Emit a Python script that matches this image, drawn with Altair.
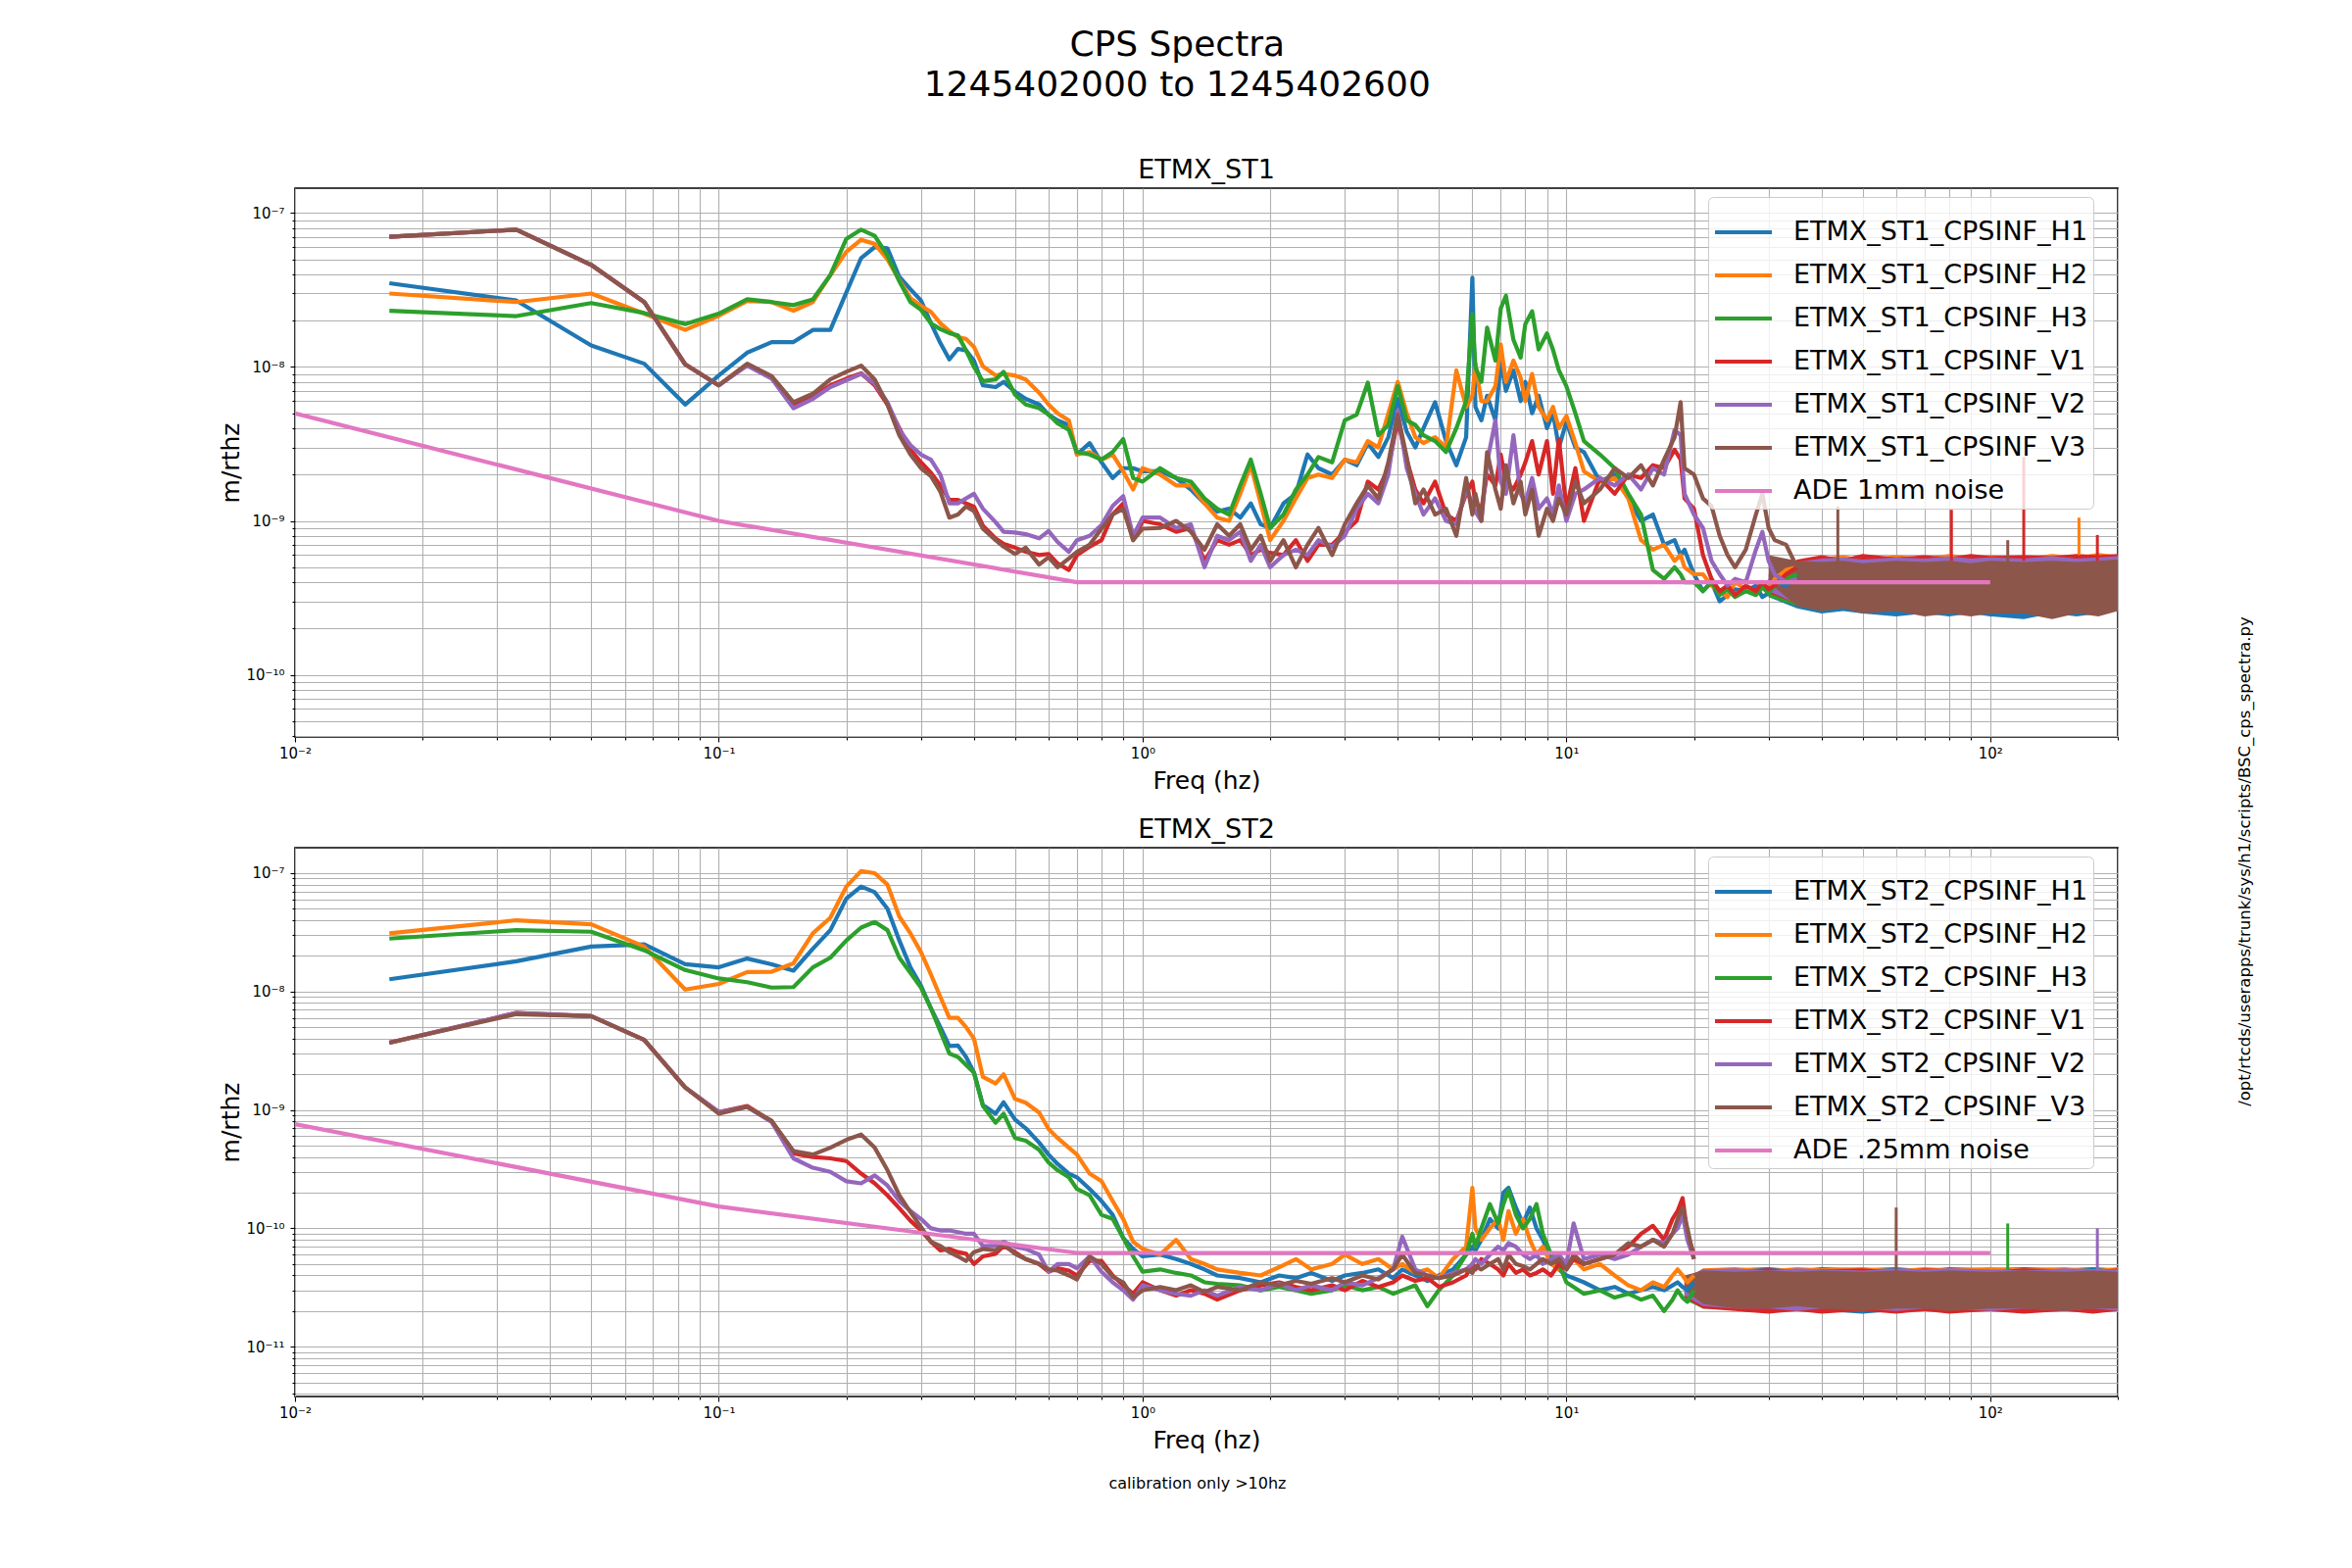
import math
import altair as alt
import pandas as pd

# ---------------- text ----------------
SUPTITLE = ["CPS Spectra", "1245402000 to 1245402600"]
PANEL_TITLES = ["ETMX_ST1", "ETMX_ST2"]
X_LABEL = "Freq (hz)"
Y_LABEL = "m/rthz"
FOOTER = "calibration only >10hz"
SCRIPT_PATH = "/opt/rtcds/userapps/trunk/sys/h1/scripts/BSC_cps_spectra.py"
CHANNELS = ["H1", "H2", "H3", "V1", "V2", "V3"]
NOISE_NAMES = ["ADE 1mm noise", "ADE .25mm noise"]
COLORS = ["#1f77b4", "#ff7f0e", "#2ca02c", "#d62728", "#9467bd", "#8c564b", "#e377c2"]

# values below are given in these units (m/rthz)
UNIT_ST1 = 1e-9
UNIT_ST2 = 1e-10

# ---------------- shared low-frequency grid (Hz) ----------------
F_LO = [0.0167, 0.0333, 0.05, 0.0667, 0.0833, 0.1, 0.1167, 0.1333, 0.15, 0.1667,
        0.1833, 0.2, 0.2167, 0.2333, 0.25, 0.2667, 0.2833, 0.3, 0.3167, 0.3333,
        0.35, 0.3667, 0.3833, 0.4, 0.42, 0.45, 0.47, 0.5, 0.53, 0.57,
        0.6, 0.63, 0.67, 0.7, 0.75, 0.8, 0.85, 0.9, 0.95, 1.0]

# ---------------- ST1 ----------------
ST1_LO_H1 = [35, 27, 13.8, 10.5, 5.7, 8.8, 12.4, 14.5, 14.5, 17.4, 17.4, 30.5, 51, 60, 59, 38.5, 32, 27, 19.2, 14.3,
             11.2, 13.1, 12.8, 11, 7.6, 7.4, 8, 6.9, 6.2, 5.7, 4.9, 4.5, 4.2, 2.7, 3.2, 2.4, 1.9, 2.2, 2.2, 2.1]
ST1_LO_H2 = [30, 26.4, 30, 22.2, 17.4, 21.5, 26.8, 26.4, 23.2, 26.4, 39.5, 56, 67, 63, 50, 36.7, 28, 25, 22.8, 19.2,
             17.1, 15.6, 15.2, 13.5, 10.1, 8.8, 9, 8.8, 8.3, 6.8, 5.7, 5.0, 4.5, 2.7, 2.8, 2.5, 2.7, 2.1, 1.6, 2.2]
ST1_LO_H3 = [23.2, 21.4, 26, 22.4, 19, 22.2, 27.5, 26.4, 25.2, 27.5, 39.5, 68, 78, 71, 53, 36, 26.4, 23.5, 19.2, 17.6,
             16.6, 16, 12.8, 10, 8.1, 8.3, 9.3, 6.6, 5.7, 5.4, 4.9, 4.3, 3.9, 2.8, 2.7, 2.5, 2.8, 3.4, 1.9, 1.8]
ST1_LO_V1 = [70, 78, 46, 26.4, 10.4, 7.6, 10.4, 8.5, 5.7, 6.4, 7.6, 8.4, 9.1, 7.6, 5.7, 4.0, 2.9, 2.4, 2.05, 1.7,
             1.37, 1.37, 1.3, 1.24, 0.93, 0.77, 0.71, 0.67, 0.63, 0.6, 0.61, 0.53, 0.48, 0.6, 0.68, 0.75, 1.1, 1.3, 0.75, 1.0]
ST1_LO_V2 = [70, 78, 46, 26.4, 10.4, 7.6, 10.2, 8.4, 5.4, 6.2, 7.4, 8.2, 9.0, 7.8, 5.9, 3.9, 3.1, 2.7, 2.5, 2.0,
             1.3, 1.3, 1.4, 1.5, 1.2, 0.98, 0.85, 0.84, 0.82, 0.77, 0.86, 0.73, 0.63, 0.75, 0.8, 0.94, 1.25, 1.45, 0.8, 1.05]
ST1_LO_V3 = [70, 78, 46, 26.4, 10.4, 7.6, 10.5, 8.7, 5.9, 6.7, 8.3, 9.3, 10.2, 8.3, 5.7, 3.6, 2.7, 2.2, 1.95, 1.55,
             1.05, 1.1, 1.24, 1.16, 0.89, 0.75, 0.68, 0.61, 0.67, 0.52, 0.58, 0.5, 0.57, 0.63, 0.7, 0.89, 1.1, 1.2, 0.75, 0.89]

F_MID_ST1 = [1.1, 1.2, 1.3, 1.4, 1.5, 1.6, 1.7, 1.8, 1.9, 2.0, 2.15, 2.3, 2.45, 2.6, 2.8, 3.0, 3.2, 3.4, 3.6, 3.8,
             4.0, 4.2, 4.4, 4.6, 4.9, 5.2, 5.5, 5.8, 6.0, 6.1, 6.3, 6.5, 6.8, 7.0, 7.2, 7.5, 7.8, 8.0, 8.3, 8.6,
             9.0, 9.3, 9.6, 10, 10.5, 11, 12, 13, 14, 15, 16, 17, 18, 18.6, 19, 20]
ST1_MID_H1 = [2.1, 1.9, 1.6, 1.3, 1.15, 1.2, 1.05, 1.3, 0.95, 0.9, 1.3, 1.5, 2.7, 2.2, 2.0, 2.5, 2.3, 3.2, 2.6, 3.5,
              6.2, 3.8, 3.0, 4.0, 5.9, 3.3, 2.3, 3.5, 38, 5.5, 4.5, 6.5, 4.5, 11, 7, 9.5, 6.0, 8.0, 5.0, 6.5,
              4.0, 5.0, 3.0, 4.4, 3.0, 2.8, 1.8, 2.0, 1.4, 1.0, 1.1, 0.7, 0.75, 0.6, 0.65, 0.45]
ST1_MID_H2 = [2.0, 1.7, 1.7, 1.3, 1.05, 1.0, 1.5, 2.3, 1.3, 0.75, 1.0, 1.4, 1.9, 2.0, 1.9, 2.5, 2.4, 3.3, 3.0, 5.0,
              8.0, 5.0, 3.5, 3.2, 3.5, 3.0, 9.5, 5.5, 6.5, 10.5, 6.0, 6.0, 7.5, 14, 8, 11, 8.5, 6.0, 9, 5.5,
              4.5, 5.5, 4.0, 4.8, 3.2, 2.1, 1.8, 1.9, 1.4, 0.75, 0.65, 0.7, 0.55, 0.6, 0.5, 0.45]
ST1_MID_H3 = [2.2, 1.9, 1.8, 1.4, 1.2, 1.1, 1.7, 2.5, 1.5, 0.9, 1.1, 1.6, 2.0, 2.6, 2.4, 4.5, 4.9, 7.9, 3.6, 4.2,
              7.5, 4.5, 4.2, 3.6, 3.3, 2.8, 4.0, 6.0, 22, 10, 8, 18, 11, 24, 29, 15, 11.5, 19, 23, 13,
              16.5, 12.9, 9.5, 7.5, 5.0, 3.3, 2.7, 2.2, 1.5, 1.1, 0.48, 0.42, 0.5, 0.45, 0.4, 0.4]
ST1_MID_V1 = [0.95, 0.85, 0.9, 0.55, 0.75, 0.7, 0.75, 0.6, 0.65, 0.62, 0.6, 0.75, 0.55, 0.7, 0.7, 0.85, 1.0, 1.8, 1.6, 2.2,
              4.5, 2.5, 1.6, 1.3, 1.8, 1.1, 1.0, 1.5, 1.8, 1.3, 1.2, 2.0, 1.7, 2.7, 1.8, 1.6, 2.0, 2.4, 3.3, 2.0,
              3.3, 1.5, 3.4, 1.2, 2.2, 1.0, 1.9, 1.5, 2.0, 1.9, 2.3, 2.2, 2.9, 2.5, 1.4, 1.2]
ST1_MID_V2 = [1.05, 0.9, 0.95, 0.5, 0.8, 0.75, 0.85, 0.55, 0.7, 0.5, 0.6, 0.65, 0.6, 0.75, 0.68, 0.8, 1.2, 1.5, 1.3, 2.0,
              5.2, 2.2, 1.5, 1.1, 1.4, 1.0, 0.95, 1.6, 1.3, 1.15, 1.0, 2.4, 4.5, 1.8, 1.5, 3.6, 1.5, 1.3, 1.9, 1.2,
              1.4, 1.1, 1.7, 1.0, 1.5, 1.6, 1.9, 1.7, 2.0, 1.6, 2.2, 2.0, 3.9, 3.6, 1.5, 1.1]
ST1_MID_V3 = [0.9, 1.0, 0.85, 0.65, 0.95, 0.8, 0.95, 0.65, 0.8, 0.55, 0.75, 0.5, 0.7, 0.9, 0.6, 0.95, 1.3, 1.7, 1.4, 2.4,
              4.9, 2.6, 1.3, 1.6, 1.1, 1.2, 0.8, 1.9, 1.1, 1.5, 1.0, 2.8, 1.6, 1.2, 2.3, 1.3, 1.8, 1.1, 1.6, 0.8,
              1.2, 1.0, 1.4, 1.1, 1.8, 1.3, 1.6, 2.2, 1.9, 2.3, 1.7, 2.5, 3.5, 5.9, 2.2, 2.0]

F_UP_ST1 = [21, 22, 23, 24, 25, 26.5, 28, 29, 30, 31, 33, 35]
ST1_UP_H1 = [0.35, 0.4, 0.3, 0.33, 0.36, 0.35, 0.38, 0.32, 0.34, 0.4, 0.38, 0.45]
ST1_UP_H2 = [0.45, 0.38, 0.35, 0.32, 0.4, 0.36, 0.34, 0.4, 0.36, 0.42, 0.48, 0.5]
ST1_UP_H3 = [0.35, 0.4, 0.33, 0.36, 0.32, 0.35, 0.33, 0.37, 0.34, 0.38, 0.42, 0.45]
ST1_UP_V1 = [0.6, 0.42, 0.35, 0.38, 0.33, 0.38, 0.35, 0.4, 0.36, 0.38, 0.45, 0.5]
ST1_UP_V2 = [0.9, 0.55, 0.45, 0.38, 0.42, 0.4, 0.65, 0.85, 0.55, 0.45, 0.4, 0.42]
ST1_UP_V3 = [1.4, 1.25, 0.8, 0.6, 0.5, 0.65, 1.1, 1.5, 0.9, 0.75, 0.7, 0.5]

# dense high-frequency noise floor: envelope (low / high) per channel
F_BAND_ST1 = [30, 35, 40, 45, 50, 60, 70, 80, 90, 100, 120, 140, 160, 180, 200]
ST1_BAND_HI = [
    [0.4, 0.52, 0.57, 0.55, 0.58, 0.56, 0.59, 0.57, 0.58, 0.56, 0.59, 0.57, 0.6, 0.58, 0.6],
    [0.42, 0.55, 0.58, 0.6, 0.57, 0.6, 0.58, 0.61, 0.59, 0.6, 0.58, 0.61, 0.59, 0.62, 0.6],
    [0.38, 0.5, 0.55, 0.56, 0.54, 0.57, 0.55, 0.56, 0.57, 0.55, 0.57, 0.56, 0.58, 0.56, 0.57],
    [0.42, 0.56, 0.6, 0.57, 0.61, 0.58, 0.6, 0.58, 0.61, 0.59, 0.6, 0.59, 0.61, 0.6, 0.61],
    [0.45, 0.54, 0.57, 0.58, 0.56, 0.58, 0.57, 0.59, 0.57, 0.58, 0.57, 0.59, 0.57, 0.58, 0.59],
    [0.6, 0.55, 0.54, 0.55, 0.53, 0.55, 0.54, 0.55, 0.53, 0.55, 0.54, 0.55, 0.54, 0.55, 0.56],
]
ST1_BAND_LO = [
    [0.32, 0.27, 0.25, 0.26, 0.25, 0.24, 0.25, 0.24, 0.25, 0.24, 0.23, 0.25, 0.24, 0.25, 0.26],
    [0.33, 0.29, 0.28, 0.29, 0.28, 0.28, 0.27, 0.28, 0.27, 0.28, 0.28, 0.27, 0.28, 0.28, 0.29],
    [0.32, 0.28, 0.26, 0.27, 0.26, 0.26, 0.25, 0.26, 0.26, 0.25, 0.26, 0.25, 0.26, 0.26, 0.27],
    [0.34, 0.29, 0.28, 0.28, 0.27, 0.28, 0.27, 0.28, 0.27, 0.27, 0.27, 0.28, 0.27, 0.28, 0.28],
    [0.35, 0.29, 0.28, 0.28, 0.28, 0.27, 0.28, 0.27, 0.28, 0.27, 0.28, 0.27, 0.28, 0.28, 0.28],
    [0.4, 0.28, 0.26, 0.27, 0.25, 0.26, 0.24, 0.25, 0.24, 0.25, 0.25, 0.23, 0.25, 0.24, 0.26],
]
SPIKE_F_ST1 = [43.7, 81, 110, 120, 162, 179]
SPIKE_CH_ST1 = ["V3", "V1", "V3", "V1", "H2", "V1"]
SPIKE_BASE_ST1 = [0.5, 0.55, 0.5, 0.55, 0.6, 0.55]
SPIKE_TOP_ST1 = [1.24, 1.18, 0.75, 2.6, 1.05, 0.81]

# ---------------- ST2 ----------------
ST2_LO_H1 = [127, 180, 240, 250, 170, 160, 190, 170, 150, 230, 330, 610, 770, 690, 500, 270, 160, 112, 72, 50,
             34.7, 35, 28, 20.7, 11, 9.3, 11.6, 8.3, 7.0, 5.3, 4.2, 3.5, 2.9, 2.7, 2.15, 1.7, 1.3, 0.83, 0.67, 0.58]
ST2_LO_H2 = [310, 400, 370, 240, 104, 116, 146, 147, 173, 310, 420, 770, 1040, 1000, 800, 430, 310, 215, 139, 90,
             60, 60, 50, 40, 19, 16.7, 20, 12.4, 11.5, 9.5, 6.9, 5.8, 4.8, 4.2, 2.9, 2.5, 1.7, 1.2, 0.77, 0.67]
ST2_LO_H3 = [280, 330, 320, 223, 152, 129, 120, 108, 109, 160, 193, 270, 347, 387, 330, 193, 144, 108, 72, 46,
             30, 28, 24, 20.7, 10.8, 7.8, 9.3, 5.8, 5.5, 4.6, 3.6, 3.1, 2.7, 2.15, 1.9, 1.3, 1.2, 0.83, 0.58, 0.43]
ST2_LO_V1 = [37, 66, 62, 39, 15.5, 9.6, 10.8, 8.0, 4.3, 4.0, 3.9, 3.7, 2.9, 2.4, 1.9, 1.48, 1.16, 0.96, 0.77, 0.65,
             0.67, 0.63, 0.61, 0.5, 0.58, 0.61, 0.71, 0.63, 0.55, 0.5, 0.43, 0.46, 0.44, 0.4, 0.53, 0.53, 0.4, 0.33, 0.28, 0.35]
ST2_LO_V2 = [37, 66, 62, 39, 15.5, 9.6, 10.6, 7.9, 3.9, 3.25, 3.0, 2.5, 2.4, 2.8, 2.3, 1.7, 1.4, 1.2, 1.0, 0.96,
             0.96, 0.93, 0.9, 0.9, 0.71, 0.71, 0.77, 0.7, 0.67, 0.6, 0.43, 0.5, 0.5, 0.46, 0.58, 0.43, 0.35, 0.3, 0.25, 0.33]
ST2_LO_V3 = [37, 64.5, 62, 39, 15.5, 9.3, 10.6, 8.1, 4.5, 4.2, 4.8, 5.6, 6.2, 4.8, 3.1, 1.9, 1.37, 1.03, 0.77, 0.71,
             0.63, 0.58, 0.53, 0.63, 0.67, 0.65, 0.73, 0.61, 0.55, 0.5, 0.45, 0.44, 0.4, 0.37, 0.58, 0.5, 0.39, 0.35, 0.26, 0.3]

F_MID_ST2 = [1.1, 1.2, 1.3, 1.4, 1.5, 1.7, 1.9, 2.1, 2.3, 2.5, 2.8, 3.0, 3.3, 3.6, 3.9, 4.1, 4.4, 4.7, 5.0, 5.4,
             5.8, 6.0, 6.1, 6.3, 6.6, 6.9, 7.1, 7.3, 7.6, 7.9, 8.2, 8.5, 8.8, 9.2, 9.6, 10, 10.4, 11, 12, 13,
             14, 15, 16, 17, 17.8, 18.3, 18.8, 19.3, 20]
ST2_MID_H1 = [0.6, 0.55, 0.5, 0.45, 0.4, 0.38, 0.35, 0.4, 0.38, 0.42, 0.36, 0.4, 0.42, 0.45, 0.38, 0.45, 0.4, 0.36, 0.4, 0.45,
              0.6, 0.7, 0.65, 0.8, 1.2, 1.0, 2.0, 2.2, 1.5, 1.1, 1.5, 1.0, 0.8, 0.55, 0.45, 0.4, 0.38, 0.35, 0.3, 0.32,
              0.28, 0.3, 0.32, 0.3, 0.33, 0.35, 0.32, 0.3, 0.35]
ST2_MID_H2 = [0.6, 0.8, 0.55, 0.5, 0.45, 0.42, 0.4, 0.47, 0.55, 0.45, 0.5, 0.6, 0.5, 0.55, 0.45, 0.5, 0.42, 0.45, 0.38, 0.55,
              0.7, 2.2, 1.0, 0.8, 1.0, 1.2, 0.8, 1.4, 0.9, 1.2, 0.8, 0.6, 0.7, 0.5, 0.45, 0.5, 0.55, 0.45, 0.5, 0.4,
              0.33, 0.3, 0.35, 0.32, 0.4, 0.45, 0.4, 0.35, 0.4]
ST2_MID_H3 = [0.45, 0.42, 0.4, 0.35, 0.34, 0.33, 0.3, 0.32, 0.3, 0.28, 0.3, 0.33, 0.3, 0.32, 0.28, 0.3, 0.33, 0.22, 0.3, 0.4,
              0.6, 0.9, 0.7, 1.0, 1.6, 1.1, 1.6, 2.1, 1.3, 1.0, 1.2, 1.6, 0.9, 0.6, 0.5, 0.35, 0.32, 0.28, 0.3, 0.26,
              0.28, 0.25, 0.27, 0.2, 0.25, 0.3, 0.26, 0.24, 0.3]
ST2_MID_V1 = [0.3, 0.27, 0.3, 0.28, 0.25, 0.3, 0.33, 0.35, 0.32, 0.3, 0.33, 0.3, 0.36, 0.32, 0.35, 0.4, 0.36, 0.38, 0.32, 0.35,
              0.4, 0.5, 0.45, 0.55, 0.5, 0.45, 0.4, 0.5, 0.42, 0.45, 0.4, 0.42, 0.45, 0.4, 0.5, 0.45, 0.55, 0.5, 0.55, 0.6,
              0.7, 0.9, 1.05, 0.8, 1.2, 1.4, 1.8, 0.9, 0.6]
ST2_MID_V2 = [0.3, 0.28, 0.27, 0.3, 0.27, 0.32, 0.3, 0.34, 0.3, 0.33, 0.3, 0.35, 0.33, 0.38, 0.45, 0.85, 0.45, 0.4, 0.38, 0.42,
              0.45, 0.5, 0.55, 0.5, 0.6, 0.7, 0.65, 0.75, 0.7, 0.6, 0.55, 0.6, 0.5, 0.55, 0.6, 0.5, 1.1, 0.55, 0.6, 0.55,
              0.6, 0.7, 0.8, 0.75, 0.9, 1.0, 1.3, 0.8, 0.55]
ST2_MID_V3 = [0.32, 0.3, 0.33, 0.29, 0.32, 0.3, 0.35, 0.33, 0.36, 0.34, 0.38, 0.35, 0.4, 0.37, 0.45, 0.6, 0.42, 0.4, 0.38, 0.4,
              0.45, 0.42, 0.48, 0.45, 0.5, 0.55, 0.45, 0.6, 0.5, 0.48, 0.45, 0.5, 0.55, 0.5, 0.55, 0.45, 0.6, 0.5, 0.55, 0.6,
              0.75, 0.7, 0.8, 0.7, 0.9, 1.2, 1.5, 1.0, 0.55]

F_BAND_ST2 = [19, 21, 25, 30, 35, 40, 50, 60, 70, 80, 100, 120, 150, 175, 200]
ST2_BAND_HI = [
    [0.33, 0.44, 0.46, 0.47, 0.45, 0.47, 0.46, 0.47, 0.45, 0.47, 0.46, 0.47, 0.46, 0.47, 0.46],
    [0.36, 0.46, 0.47, 0.45, 0.47, 0.46, 0.47, 0.45, 0.47, 0.46, 0.47, 0.46, 0.47, 0.45, 0.47],
    [0.3, 0.4, 0.44, 0.45, 0.44, 0.45, 0.44, 0.45, 0.44, 0.45, 0.44, 0.45, 0.44, 0.45, 0.44],
    [0.38, 0.45, 0.44, 0.46, 0.44, 0.45, 0.46, 0.44, 0.46, 0.45, 0.44, 0.46, 0.45, 0.44, 0.46],
    [0.38, 0.45, 0.46, 0.44, 0.46, 0.45, 0.44, 0.46, 0.45, 0.46, 0.45, 0.44, 0.46, 0.45, 0.45],
    [0.4, 0.44, 0.43, 0.44, 0.43, 0.44, 0.43, 0.44, 0.43, 0.44, 0.43, 0.44, 0.43, 0.44, 0.43],
]
ST2_BAND_LO = [
    [0.26, 0.22, 0.21, 0.2, 0.21, 0.2, 0.19, 0.2, 0.21, 0.2, 0.2, 0.21, 0.2, 0.21, 0.2],
    [0.27, 0.23, 0.22, 0.21, 0.22, 0.21, 0.21, 0.22, 0.21, 0.22, 0.21, 0.22, 0.21, 0.22, 0.21],
    [0.25, 0.21, 0.21, 0.2, 0.21, 0.2, 0.2, 0.21, 0.2, 0.2, 0.21, 0.2, 0.21, 0.2, 0.21],
    [0.26, 0.21, 0.2, 0.19, 0.2, 0.19, 0.2, 0.19, 0.2, 0.19, 0.2, 0.19, 0.2, 0.19, 0.2],
    [0.27, 0.22, 0.21, 0.21, 0.2, 0.21, 0.21, 0.2, 0.21, 0.21, 0.2, 0.21, 0.2, 0.21, 0.2],
    [0.3, 0.23, 0.21, 0.21, 0.22, 0.21, 0.2, 0.21, 0.21, 0.2, 0.21, 0.21, 0.2, 0.21, 0.21],
]
SPIKE_F_ST2 = [60, 110, 179]
SPIKE_CH_ST2 = ["V3", "H3", "V2"]
SPIKE_BASE_ST2 = [0.42, 0.45, 0.44]
SPIKE_TOP_ST2 = [1.5, 1.1, 1.0]

# ADE noise curves
NOISE_F = [0.01, 0.1, 0.7, 100]
NOISE_ST1 = [5.0, 1.0, 0.4, 0.4]      # x UNIT_ST1
NOISE_ST2 = [7.6, 1.53, 0.62, 0.62]   # x UNIT_ST2

Y_DOMAIN_ST1 = [3.95e-11, 1.45e-7]
Y_DOMAIN_ST2 = [3.8e-12, 1.64e-7]
X_DOMAIN = [0.01, 200]

# ---------------- layout / style ----------------
FONT = "DejaVu Sans"
W, H = 1860, 560
LW = 4.2
SUP = str.maketrans("-0123456789", "⁻⁰¹²³⁴⁵⁶⁷⁸⁹")
IS_MAJOR = "abs(log(datum.value)/LN10 - round(log(datum.value)/LN10)) < 0.000001"


def log_axis(title, lo, hi, exps, orient):
    vals = [k * 10.0 ** e for e in range(exps[0] - 1, exps[-1] + 1) for k in range(1, 10)]
    vals = [v for v in vals if lo * 0.9999 <= v <= hi * 1.0001]
    e_expr = "round(log(datum.value)/LN10)"
    parts = " : ".join(f"{e_expr} === {e} ? '10{str(e).translate(SUP)}'" for e in exps)
    label = f"{IS_MAJOR} ? ({parts} : '') : ''"
    common = dict(
        title=title, values=vals, labelExpr=label, labelOverlap=False, labelFlush=False,
        labelFont=FONT, labelFontSize=15, labelColor="black",
        tickSize={"condition": {"test": IS_MAJOR, "value": 5}, "value": 3},
        tickColor="black", tickWidth=1.1, domain=False,
        grid=True, gridColor="#b0b0b0", gridWidth=1.1,
        titleFont=FONT, titleFontSize=25, titleFontWeight="normal", titleColor="black",
        titleAlign="center", titleBaseline="middle",
    )
    if orient == "x":
        return alt.Axis(labelPadding=4, titleX=W / 2, titleY=44, **common)
    return alt.Axis(labelPadding=6, titleX=-66, titleY=H / 2, titleAngle=270, **common)


def panel(idx, st, unit, lo_vals, mid_f, mid_vals, up_f, up_vals, band_f, band_hi, band_lo,
          spk_f, spk_ch, spk_base, spk_top, noise_vals, y_domain, extra_layers=()):
    names = [f"ETMX_{st}_CPSINF_{c}" for c in CHANNELS]
    domain = names + [NOISE_NAMES[idx]]
    cscale = alt.Scale(domain=domain, range=COLORS)

    rows = []
    for i, name in enumerate(names):
        fs = F_LO + mid_f + up_f
        vs = lo_vals[i] + mid_vals[i] + up_vals[i]
        if len(fs) != len(vs):
            raise ValueError(f"{name}: {len(fs)} freqs vs {len(vs)} values")
        for f, v in zip(fs, vs):
            rows.append({"f": f, "v": v * unit, "series": name})
    line_df = pd.DataFrame(rows)

    brows = []
    for i, name in enumerate(names):
        if not (len(band_f) == len(band_lo[i]) == len(band_hi[i])):
            raise ValueError(f"band length mismatch {name}")
        for f, lo, hi in zip(band_f, band_lo[i], band_hi[i]):
            brows.append({"f": f, "v": lo * unit, "v2": hi * unit, "series": name})
    band_df = pd.DataFrame(brows)

    spk_df = pd.DataFrame({
        "f": spk_f,
        "v": [b * unit for b in spk_base],
        "v2": [t * unit for t in spk_top],
        "series": [f"ETMX_{st}_CPSINF_{c}" for c in spk_ch],
    })
    noise_df = pd.DataFrame({"f": NOISE_F, "v": [n * unit for n in noise_vals],
                             "series": NOISE_NAMES[idx]})

    exps_y = list(range(math.ceil(math.log10(y_domain[0])), math.floor(math.log10(y_domain[1])) + 1))
    xs = alt.Scale(type="log", domain=X_DOMAIN, nice=False)
    ys = alt.Scale(type="log", domain=y_domain, nice=False)
    xa = log_axis(X_LABEL, X_DOMAIN[0], X_DOMAIN[1], [-2, -1, 0, 1, 2], "x")
    ya = log_axis(Y_LABEL, y_domain[0], y_domain[1], exps_y, "y")
    X = alt.X("f:Q", scale=xs, axis=xa)
    Y = alt.Y("v:Q", scale=ys, axis=ya)

    legend = alt.Legend(
        orient="none", legendX=1442, legendY=9, title=None,
        symbolType="stroke", symbolSize=3364, symbolStrokeWidth=4,
        labelFont=FONT, labelFontSize=27, labelColor="black", labelOffset=20, labelLimit=0,
        fillColor="rgba(255,255,255,0.8)", strokeColor="#cccccc", cornerRadius=5,
        padding=5, rowPadding=0,
    )
    C = alt.Color("series:N", scale=cscale, legend=legend)

    area = alt.Chart(band_df).mark_area(opacity=1, clip=True).encode(
        x=X, y=Y, y2="v2:Q", color=C, detail="series:N",
    )
    spikes = alt.Chart(spk_df).mark_rule(strokeWidth=3, clip=True).encode(
        x=X, y=Y, y2="v2:Q", color=C,
    )
    lines = alt.Chart(line_df).mark_line(strokeWidth=LW, strokeJoin="round", clip=True).encode(
        x=X, y=Y, color=C,
    )
    noise = alt.Chart(noise_df).mark_line(strokeWidth=LW, clip=True).encode(
        x=X, y=Y, color=C,
    )
    layers = [area, spikes, lines, noise] + list(extra_layers)
    return alt.layer(*layers).properties(
        width=W, height=H,
        title=alt.TitleParams(PANEL_TITLES[idx], font=FONT, fontSize=27, fontWeight="normal",
                              color="black", anchor="middle", offset=4),
    )


footer = alt.Chart(pd.DataFrame({"t": [FOOTER]})).mark_text(
    font=FONT, fontSize=16, color="black", align="center", baseline="middle"
).encode(x=alt.value(921), y=alt.value(649), text="t:N")
script_txt = alt.Chart(pd.DataFrame({"t": [SCRIPT_PATH]})).mark_text(
    font=FONT, fontSize=16.5, color="black", align="center", baseline="middle", angle=270
).encode(x=alt.value(1990), y=alt.value(687), text="t:N")

top = panel(0, "ST1", UNIT_ST1,
            [ST1_LO_H1, ST1_LO_H2, ST1_LO_H3, ST1_LO_V1, ST1_LO_V2, ST1_LO_V3],
            F_MID_ST1, [ST1_MID_H1, ST1_MID_H2, ST1_MID_H3, ST1_MID_V1, ST1_MID_V2, ST1_MID_V3],
            F_UP_ST1, [ST1_UP_H1, ST1_UP_H2, ST1_UP_H3, ST1_UP_V1, ST1_UP_V2, ST1_UP_V3],
            F_BAND_ST1, ST1_BAND_HI, ST1_BAND_LO,
            SPIKE_F_ST1, SPIKE_CH_ST1, SPIKE_BASE_ST1, SPIKE_TOP_ST1, NOISE_ST1, Y_DOMAIN_ST1,
            extra_layers=(script_txt,))

bottom = panel(1, "ST2", UNIT_ST2,
               [ST2_LO_H1, ST2_LO_H2, ST2_LO_H3, ST2_LO_V1, ST2_LO_V2, ST2_LO_V3],
               F_MID_ST2, [ST2_MID_H1, ST2_MID_H2, ST2_MID_H3, ST2_MID_V1, ST2_MID_V2, ST2_MID_V3],
               [], [[], [], [], [], [], []],
               F_BAND_ST2, ST2_BAND_HI, ST2_BAND_LO,
               SPIKE_F_ST2, SPIKE_CH_ST2, SPIKE_BASE_ST2, SPIKE_TOP_ST2, NOISE_ST2, Y_DOMAIN_ST2,
               extra_layers=(footer,))

chart = alt.vconcat(
    top, bottom, spacing=113, bounds="flush",
    title=alt.TitleParams(SUPTITLE, font=FONT, fontSize=36, lineHeight=41, fontWeight="normal",
                          color="black", anchor="middle", offset=53, dx=-60),
).resolve_scale(color="independent").resolve_legend(color="independent").properties(
    padding={"left": 214, "top": 20, "right": 10, "bottom": 10},
    background="white",
).configure(font=FONT).configure_view(stroke="black", strokeWidth=1.6)

chart.save("out.html", embed_options={"renderer": "svg", "actions": False})
